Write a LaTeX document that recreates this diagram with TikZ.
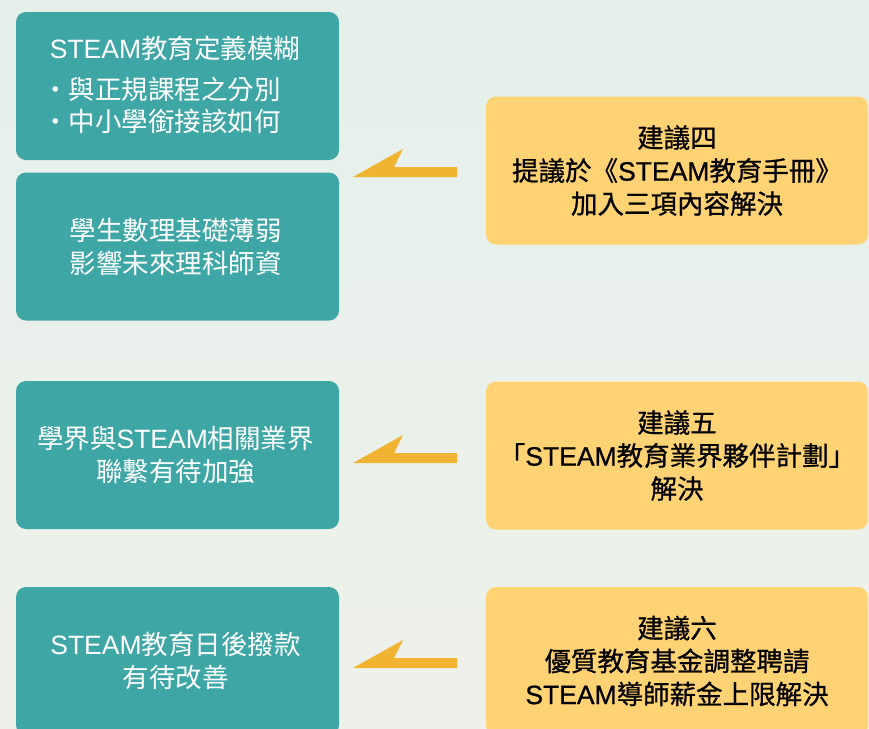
\documentclass[tikz,border=0pt]{standalone}
\usepackage{fontspec}
\setmainfont{Noto Sans CJK TC}
\newfontfamily\lat{Liberation Sans}
\newfontfamily\ycjk[FakeBold=0.8]{Noto Sans CJK TC}
\newfontfamily\ylat[FakeBold=0.8]{Liberation Sans}
\definecolor{bgtop}{HTML}{E5F0EB}
\definecolor{bgbot}{HTML}{EEF1EA}
\definecolor{tealbox}{HTML}{3FA6A6}
\definecolor{yelbox}{HTML}{FFD274}
\definecolor{arrowc}{HTML}{F0B432}
\tikzset{
  boxbase/.style={rounded corners=10pt, minimum width=323pt, minimum height=148pt, inner sep=0pt, align=center, font=\fontsize{26.5}{33}\selectfont},
  tbox/.style={boxbase, fill=tealbox, text=white},
  ybox/.style={boxbase, fill=yelbox, text=black, minimum width=382pt, font=\fontsize{26.5}{33}\selectfont\ycjk},
  txt/.style={inner sep=0pt, text=white, font=\fontsize{26.5}{33}\selectfont},
  arr/.style={fill=arrowc}
}
\begin{document}
\begin{tikzpicture}[x=1pt,y=-1pt]
\useasboundingbox (0,0) rectangle (869,728);
\clip (0,0) rectangle (869,728);
\shade[top color=bgtop, bottom color=bgbot] (0,0) rectangle (869,728);
% left boxes
\node[tbox] (b1) at (177.5,86) {};
\node[txt] (b1a) at (175,48) {{\lat STEAM}教育定義模糊};
\node[txt, anchor=west] (b1b) at (42,89) {・與正規課程之分別};
\node[txt, anchor=west] (b1c) at (42,121) {・中小學銜接該如何};
\node[tbox] (b2) at (177.5,246.5) {學生數理基礎薄弱\hspace*{4pt}\\影響未來理科師資\hspace*{4pt}};
\node[tbox] (b3) at (177.5,455) {學界與{\lat STEAM}相關業界\hspace*{4pt}\\聯繫有待加強\hspace*{4pt}};
\node[tbox] (b4) at (177.5,661) {{\lat STEAM}教育日後撥款\hspace*{4pt}\\有待改善\hspace*{4pt}};
% right boxes
\node[ybox] (y1) at (677,170.5) {建議四\\提議於《{\ylat STEAM}教育手冊》\\加入三項內容解決};
\node[ybox] (y2) at (677,455.5) {建議五\\「{\ylat STEAM}教育業界夥伴計劃」\\解決};
\node[ybox] (y3) at (677,661) {建議六\\優質教育基金調整聘請\\{\ylat STEAM}導師薪金上限解決};
% arrows
\coordinate (a1) at (353,177);
\coordinate (a2) at (353,463);
\coordinate (a3) at (353,668);
\foreach \a in {a1,a2,a3}
  \fill[arr] (\a) -- ++(50,-28) -- ++(-9,18) -- ++(63,0) -- ++(0,10) -- cycle;
\end{tikzpicture}
\end{document}
